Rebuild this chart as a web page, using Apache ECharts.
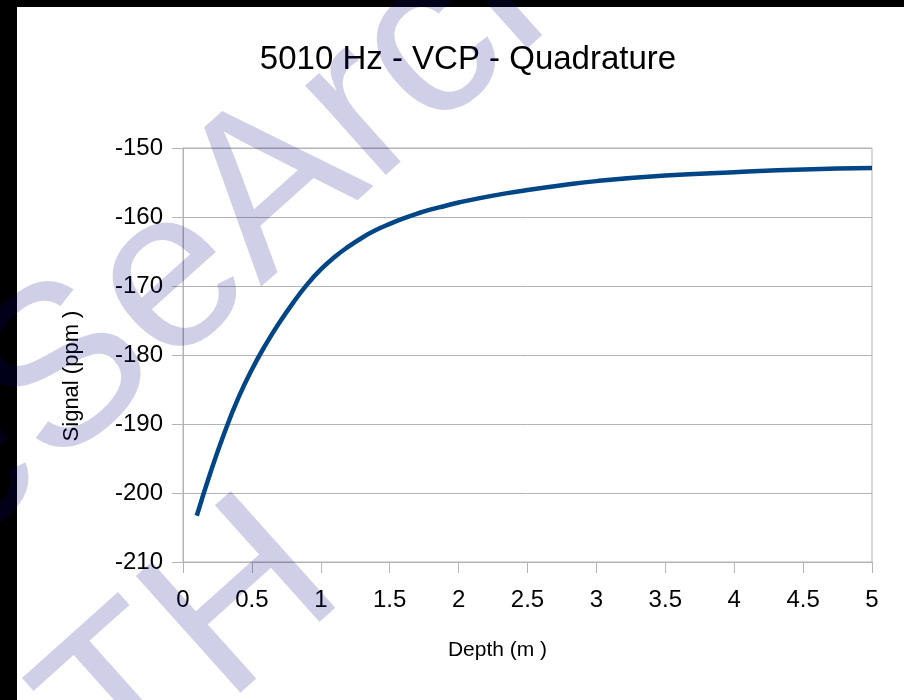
<!DOCTYPE html>
<html>
<head>
<meta charset="utf-8">
<title>5010 Hz - VCP - Quadrature</title>
<script src="https://cdn.jsdelivr.net/npm/echarts@6/dist/echarts.min.js"></script>
<style>
  html, body { margin: 0; padding: 0; background: #fff; }
  #chart { width: 904px; height: 700px; }
</style>
</head>
<body>
<div id="chart"></div>
<script>
// depth (m) and signal (ppm)
const depth = [0.1, 0.2, 0.3, 0.4, 0.5, 0.6, 0.7, 0.8, 0.9, 1.0, 1.1, 1.2, 1.3, 1.4, 1.5, 1.6, 1.7, 1.8, 1.9, 2.0, 2.25, 2.5, 2.75, 3.0, 3.5, 4.0, 4.5, 5.0]
const signal = [-203.3, -197.0, -191.3, -186.3, -182.1, -178.5, -175.3, -172.4, -169.8, -167.6, -165.8, -164.3, -163.0, -161.9, -161.0, -160.2, -159.5, -158.9, -158.4, -157.9, -156.9, -156.1, -155.4, -154.8, -154.0, -153.5, -153.1, -152.9]

const yMin = -210
const yMax = -150
const yStep = 10
const xMin = 0
const xMax = 5
const xStep = 0.5

const font = '"Liberation Sans", Arial, sans-serif'
const gridColor = '#b3b3b3'
const markColor = 'rgba(0, 0, 128, 0.19)'

const chart = echarts.init(document.getElementById('chart'))

const points = depth.map((d, i) => [d, signal[i]])

const option = {
  backgroundColor: '#fff',
  animation: false,
  title: {
    text: '5010 Hz - VCP - Quadrature',
    left: 463,
    top: 38,
    textAlign: 'center',
    textStyle: {
      fontFamily: font,
      fontSize: 33,
      fontWeight: 'normal',
      color: '#000'
    }
  },
  grid: {
    left: 183,
    right: 32,
    top: 148,
    bottom: 138,
    show: true,
    borderColor: gridColor,
    borderWidth: 1
  },
  xAxis: {
    type: 'value',
    min: xMin,
    max: xMax,
    interval: xStep,
    name: 'Depth (m )',
    nameLocation: 'middle',
    nameGap: 78,
    nameTextStyle: {
      fontFamily: font,
      fontSize: 21,
      color: '#000',
      padding: [0, 60, 0, 0]
    },
    axisLine: { lineStyle: { color: gridColor } },
    axisTick: { show: true, length: 11, lineStyle: { color: gridColor } },
    axisLabel: {
      fontFamily: font,
      fontSize: 24,
      color: '#000',
      margin: 26
    },
    splitLine: { show: false }
  },
  yAxis: {
    type: 'value',
    min: yMin,
    max: yMax,
    interval: yStep,
    name: 'Signal (ppm )',
    nameLocation: 'middle',
    nameGap: 100,
    nameTextStyle: {
      fontFamily: font,
      fontSize: 22,
      color: '#000',
      padding: [0, 42, 0, 0]
    },
    axisLine: { show: true, lineStyle: { color: gridColor } },
    axisTick: { show: true, length: 11, lineStyle: { color: gridColor } },
    axisLabel: {
      fontFamily: font,
      fontSize: 24,
      color: '#000',
      margin: 20
    },
    splitLine: { show: true, lineStyle: { color: gridColor } }
  },
  series: [{
    type: 'line',
    data: points,
    smooth: true,
    showSymbol: false,
    lineStyle: { color: '#004586', width: 4.5 },
    z: 3
  }],
  graphic: [
    // black frame on the top and left edge
    { type: 'rect', z: 50, silent: true, shape: { x: 0, y: 0, width: 17, height: 700 }, style: { fill: '#000' } },
    { type: 'rect', z: 50, silent: true, shape: { x: 0, y: 0, width: 904, height: 7 }, style: { fill: '#000' } },
    // watermark
    {
      type: 'text',
      z: 60,
      silent: true,
      x: 181,
      y: 274,
      rotation: 0.73,
      style: {
        text: 'ReSeArch',
        fontFamily: font,
        fontSize: 228,
        fill: markColor,
        align: 'center',
        verticalAlign: 'middle'
      }
    },
    {
      type: 'text',
      z: 60,
      silent: true,
      x: 194,
      y: 650,
      rotation: 0.73,
      style: {
        text: 'TH',
        fontFamily: font,
        fontSize: 228,
        fill: markColor,
        align: 'center',
        verticalAlign: 'middle'
      }
    }
  ]
}

chart.setOption(option)
</script>
</body>
</html>
